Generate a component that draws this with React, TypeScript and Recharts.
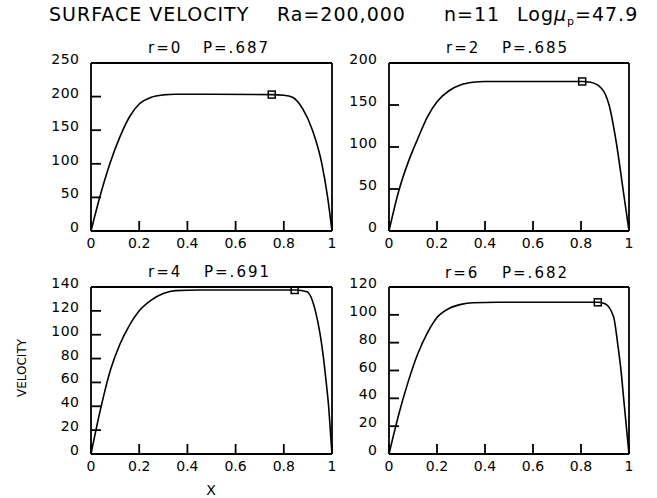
import React from 'react';
import { ComposedChart, Line, Scatter, XAxis, YAxis } from 'recharts';

// ---- data ----
const xTicks = [0, 0.2, 0.4, 0.6, 0.8, 1];

const p1Ticks = [0, 50, 100, 150, 200, 250];
const p1X = [0, 0.04, 0.08, 0.12, 0.16, 0.2, 0.25, 0.3, 0.35, 0.5, 0.75, 0.8, 0.836, 0.878, 0.919, 0.958, 0.982, 1];
const p1V = [0, 55, 102, 140, 170, 189, 199, 202.5, 203.5, 203.5, 203, 202, 199, 182, 150, 100, 50, 0];
const p1Marker = [{ x: 0.75, v: 203 }];

const p2Ticks = [0, 50, 100, 150, 200];
const p2X = [0, 0.04, 0.08, 0.12, 0.16, 0.2, 0.25, 0.3, 0.35, 0.4, 0.6, 0.805, 0.84, 0.885, 0.917, 0.95, 0.975, 1];
const p2V = [0, 47, 82, 110, 136, 154, 167, 174, 177, 178, 178, 178, 177, 170, 150, 100, 50, 0];
const p2Marker = [{ x: 0.805, v: 178 }];

const p3Ticks = [0, 20, 40, 60, 80, 100, 120, 140];
const p3X = [0, 0.04, 0.08, 0.12, 0.16, 0.2, 0.25, 0.3, 0.35, 0.45, 0.6, 0.85, 0.896, 0.931, 0.951, 0.965, 0.976, 0.986, 0.993, 1];
const p3V = [0, 38, 70, 92, 108, 120, 129, 134.5, 137, 137.5, 137.5, 137.5, 136, 120, 100, 80, 60, 40, 20, 0];
const p3Marker = [{ x: 0.845, v: 137.5 }];

const p4Ticks = [0, 20, 40, 60, 80, 100, 120];
const p4X = [0, 0.04, 0.08, 0.12, 0.16, 0.2, 0.25, 0.3, 0.35, 0.45, 0.6, 0.87, 0.9, 0.936, 0.953, 0.967, 0.978, 0.989, 1];
const p4V = [0, 28, 52, 72, 87, 98, 104.5, 107.5, 108.7, 109, 109, 109, 108, 98.5, 79, 59.5, 39.4, 19.6, 0];
const p4Marker = [{ x: 0.87, v: 109 }];

const titles = ['r=0', 'r=2', 'r=4', 'r=6'];
const pValues = ['P=.687', 'P=.685', 'P=.691', 'P=.682'];

const toRows = (xs: number[], vs: number[]) => xs.map((x, i) => ({ x, v: vs[i] }));

// ---- layout ----
const FONT = '"DejaVu Sans", sans-serif';
const panels = [
  { rows: toRows(p1X, p1V), ticks: p1Ticks, marker: p1Marker, left: 91, top: 63, w: 241, h: 168 },
  { rows: toRows(p2X, p2V), ticks: p2Ticks, marker: p2Marker, left: 389, top: 63, w: 240, h: 168 },
  { rows: toRows(p3X, p3V), ticks: p3Ticks, marker: p3Marker, left: 91, top: 287, w: 241, h: 167 },
  { rows: toRows(p4X, p4V), ticks: p4Ticks, marker: p4Marker, left: 389, top: 287, w: 240, h: 167 },
];

const LW = 1.8;

const XTick = (props: any) => {
  const { x, y, payload } = props;
  return (
    <text x={x} y={y + 17} textAnchor="middle" fontSize={14} fontFamily={FONT} fill="#000">
      {String(payload.value)}
    </text>
  );
};

const YTick = (props: any) => {
  const { x, y, payload } = props;
  return (
    <text x={x - 11.5} y={y + 1} textAnchor="end" fontSize={14} fontFamily={FONT} fill="#000" letterSpacing={0.5}>
      {String(payload.value)}
    </text>
  );
};

const Square = (p: any) => (
  <rect x={p.cx - 3.5} y={p.cy - 3.5} width={7} height={7} fill="none" stroke="#000" strokeWidth={1.5} />
);

const Panel = ({ panel }: { panel: any }) => {
  const yw = 50;
  const mt = 20;
  const width = yw + panel.w + 10;
  const height = mt + panel.h + 30;
  const ymax = panel.ticks[panel.ticks.length - 1];
  const axisStyle = { stroke: '#000', strokeWidth: LW };
  return (
    <div style={{ position: 'absolute', left: panel.left - yw, top: panel.top - mt }}>
      <ComposedChart width={width} height={height} data={panel.rows} margin={{ top: mt - 1, right: 9, bottom: 0, left: 0 }}>
        <XAxis dataKey="x" type="number" domain={[0, 1]} ticks={xTicks} interval={0} height={30}
          tickSize={-10} tickMargin={10} tick={<XTick />} axisLine={axisStyle} tickLine={axisStyle} allowDataOverflow />
        <XAxis xAxisId="top" orientation="top" dataKey="x" type="number" domain={[0, 1]} ticks={xTicks} interval={0} height={1}
          tickSize={-10} tick={false} axisLine={axisStyle} tickLine={axisStyle} allowDataOverflow />
        <YAxis type="number" domain={[0, ymax]} ticks={panel.ticks} interval={0} width={yw}
          tickSize={-10} tickMargin={10} tick={<YTick />} axisLine={axisStyle} tickLine={axisStyle} allowDataOverflow />
        <YAxis yAxisId="right" orientation="right" type="number" domain={[0, ymax]} ticks={panel.ticks} interval={0} width={1}
          tickSize={-10} tick={false} axisLine={axisStyle} tickLine={axisStyle} allowDataOverflow />
        <Line type="monotone" dataKey="v" stroke="#000" strokeWidth={1.6} dot={false} isAnimationActive={false} />
        <Scatter data={panel.marker} dataKey="v" shape={<Square />} isAnimationActive={false} />
      </ComposedChart>
    </div>
  );
};

const subPos = [
  { rx: 148, px: 203, y: 53 },
  { rx: 446, px: 502, y: 53 },
  { rx: 148, px: 204, y: 277 },
  { rx: 445, px: 502, y: 278 },
];

export default function App() {
  return (
    <div style={{ position: 'absolute', left: 0, top: 0, width: 657, height: 498, background: '#fff', overflow: 'hidden' }}>
      {panels.map((p, i) => <Panel key={i} panel={p} />)}
      <svg width={657} height={498} style={{ position: 'absolute', left: 0, top: 0, pointerEvents: 'none' }}>
        <g fontFamily={FONT} fill="#000" fontSize={19} letterSpacing={1}>
          <text x={49} y={21}>SURFACE VELOCITY</text>
          <text x={277} y={21}>Ra=200,000</text>
          <text x={444} y={21}>n=11</text>
          <text x={517} y={21}>Log<tspan fontStyle="italic">μ</tspan><tspan fontSize={11} dy={4}>p</tspan><tspan dy={-4}>=47.9</tspan></text>
        </g>
        <g fontFamily={FONT} fill="#000" fontSize={15} letterSpacing={2}>
          {subPos.map((s, i) => (
            <g key={i}>
              <text x={s.rx} y={s.y}>{titles[i]}</text>
              <text x={s.px} y={s.y}>{pValues[i]}</text>
            </g>
          ))}
        </g>
        <text x={0} y={0} transform="translate(26,368) rotate(-90)" textAnchor="middle" fontFamily={FONT} fontSize={12} fill="#000">VELOCITY</text>
        <text x={211} y={495} textAnchor="middle" fontFamily={FONT} fontSize={14} fill="#000">X</text>
      </svg>
    </div>
  );
}
